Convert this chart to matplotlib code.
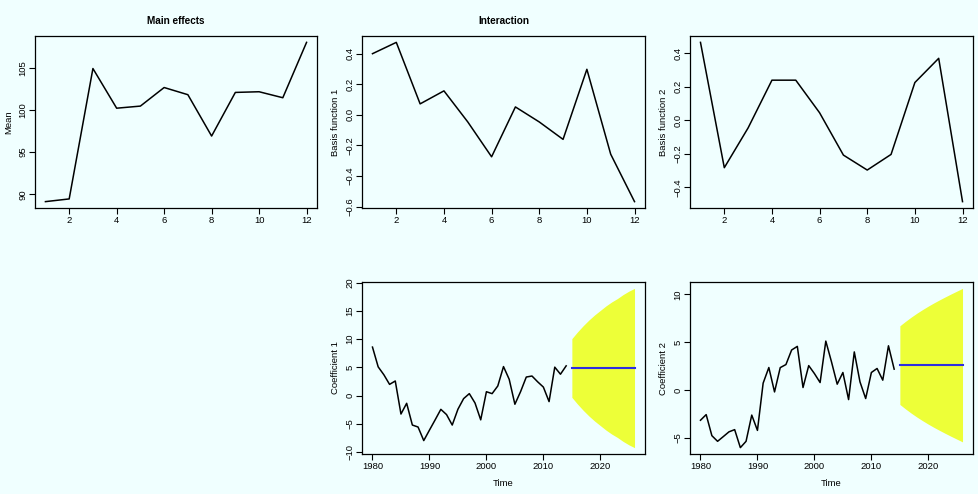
# %%
import numpy as np
from matplotlib import pyplot as plt

plt.rcParams['font.family'] = ['Liberation Sans', 'DejaVu Sans']

# %%
# basis functions over the 12 months
month = np.arange(1, 13)
mean_fn = [89.13, 89.45, 104.9, 100.2, 100.45, 102.65, 101.8, 96.9, 102.07, 102.15, 101.44, 108.0]
basis1 = [0.40, 0.474, 0.072, 0.157, -0.046, -0.274, 0.052, -0.046, -0.16, 0.298, -0.257, -0.567]
basis2 = [0.463, -0.283, -0.046, 0.238, 0.238, 0.044, -0.208, -0.297, -0.204, 0.224, 0.368, -0.485]

# fitted coefficients 1980-2014
years = np.arange(1980, 2015)
coef1 = [8.6, 5.1, 3.7, 2.0, 2.6, -3.25, -1.35, -5.2, -5.55, -7.95, -6.1, -4.28, -2.42, -3.35,
         -5.2, -2.4, -0.52, 0.36, -1.3, -4.28, 0.7, 0.36, 1.72, 5.15, 2.9, -1.52, 0.72, 3.3,
         3.48, 2.45, 1.52, -1.05, 5.05, 3.8, 5.28]
coef2 = [-3.14, -2.55, -4.75, -5.34, -4.85, -4.35, -4.12, -6.0, -5.34, -2.6, -4.2, 0.74, 2.37,
         -0.18, 2.36, 2.68, 4.2, 4.58, 0.28, 2.57, 1.74, 0.8, 5.13, 2.96, 0.63, 1.85, -0.98,
         4.0, 0.87, -0.87, 1.85, 2.27, 1.05, 4.64, 2.2]

# forecasts 2015-2026 with prediction intervals
fc_years = np.arange(2015, 2027)
fc1 = [4.85] * 12
fc1_hi = [10.1, 11.3, 12.4, 13.4, 14.3, 15.1, 15.9, 16.6, 17.2, 17.9, 18.5, 19.0]
fc1_lo = [-0.3, -1.5, -2.6, -3.6, -4.5, -5.3, -6.1, -6.8, -7.4, -8.1, -8.7, -9.2]
fc2 = [2.62] * 12
fc2_hi = [6.73, 7.20, 7.64, 8.05, 8.43, 8.79, 9.13, 9.45, 9.76, 10.06, 10.35, 10.64]
fc2_lo = [-1.49, -1.96, -2.40, -2.81, -3.19, -3.55, -3.89, -4.21, -4.52, -4.82, -5.11, -5.40]

# %%
bg = '#f0ffff'
W, H = 979, 494
fig = plt.figure(figsize=(W / 100, H / 100), dpi=100, facecolor=bg)


def make_ax(left, right, top, bottom):
    ax = fig.add_axes([left / W, 1 - bottom / H, (right - left) / W, (bottom - top) / H])
    ax.set_facecolor(bg)
    for s in ax.spines.values():
        s.set_linewidth(0.9)
    ax.tick_params(length=4, width=0.8, labelsize=6.8, pad=1.5)
    ax.tick_params(axis='y', labelrotation=90)
    ax.margins(0.04)
    return ax


def ylab(ax, text, px):
    w = ax.get_position().width * W
    ax.set_ylabel(text, fontsize=6.8)
    ax.yaxis.set_label_coords(-px / w, 0.5)


def fmt(vals, nd):
    return [f'{v:.{nd}f}'.replace('-', '\u2212') for v in vals]


top_row = (36, 208)
bot_row = (282, 454)

# main effects
ax = make_ax(35, 317, *top_row)
ax.plot(month, mean_fn, color='black', lw=1.1)
ax.set_xticks(range(2, 13, 2))
ax.set_yticks([90, 95, 100, 105])
ax.set_yticklabels(fmt([90, 95, 100, 105], 0), va='center')
ylab(ax, 'Mean', 22)
ax.set_title('Main effects', fontsize=7.2, fontweight='bold', pad=9)

# interaction: basis 1
ax = make_ax(362, 645, *top_row)
ax.plot(month, basis1, color='black', lw=1.1)
ax.set_xticks(range(2, 13, 2))
t = [-0.6, -0.4, -0.2, 0.0, 0.2, 0.4]
ax.set_yticks(t)
ax.set_yticklabels(fmt(t, 1), va='center')
ylab(ax, 'Basis function 1', 22)
ax.set_title('Interaction', fontsize=7.2, fontweight='bold', pad=9)

# basis 2
ax = make_ax(690, 973, *top_row)
ax.plot(month, basis2, color='black', lw=1.1)
ax.set_xticks(range(2, 13, 2))
t = [-0.4, -0.2, 0.0, 0.2, 0.4]
ax.set_yticks(t)
ax.set_yticklabels(fmt(t, 1), va='center')
ylab(ax, 'Basis function 2', 22)

# coefficient 1 with forecast
ax = make_ax(362, 645, *bot_row)
ax.fill_between(fc_years, fc1_lo, fc1_hi, color='#edff38', lw=0)
ax.plot(years, coef1, color='black', lw=1.1)
ax.plot(fc_years, fc1, color='#2e2ee0', lw=1.5)
ax.set_xticks(range(1980, 2021, 10))
t = [-10, -5, 0, 5, 10, 15, 20]
ax.set_yticks(t)
ax.set_yticklabels(fmt(t, 0), va='center')
ylab(ax, 'Coefficient 1', 22)
ax.set_xlabel('Time', fontsize=6.8, labelpad=6)

# coefficient 2 with forecast
ax = make_ax(690, 973, *bot_row)
ax.fill_between(fc_years, fc2_lo, fc2_hi, color='#edff38', lw=0)
ax.plot(years, coef2, color='black', lw=1.1)
ax.plot(fc_years, fc2, color='#2e2ee0', lw=1.5)
ax.set_xticks(range(1980, 2021, 10))
t = [-5, 0, 5, 10]
ax.set_yticks(t)
ax.set_yticklabels(fmt(t, 0), va='center')
ylab(ax, 'Coefficient 2', 22)
ax.set_xlabel('Time', fontsize=6.8, labelpad=6)

plt.savefig('out.png', dpi=100, facecolor=bg)
